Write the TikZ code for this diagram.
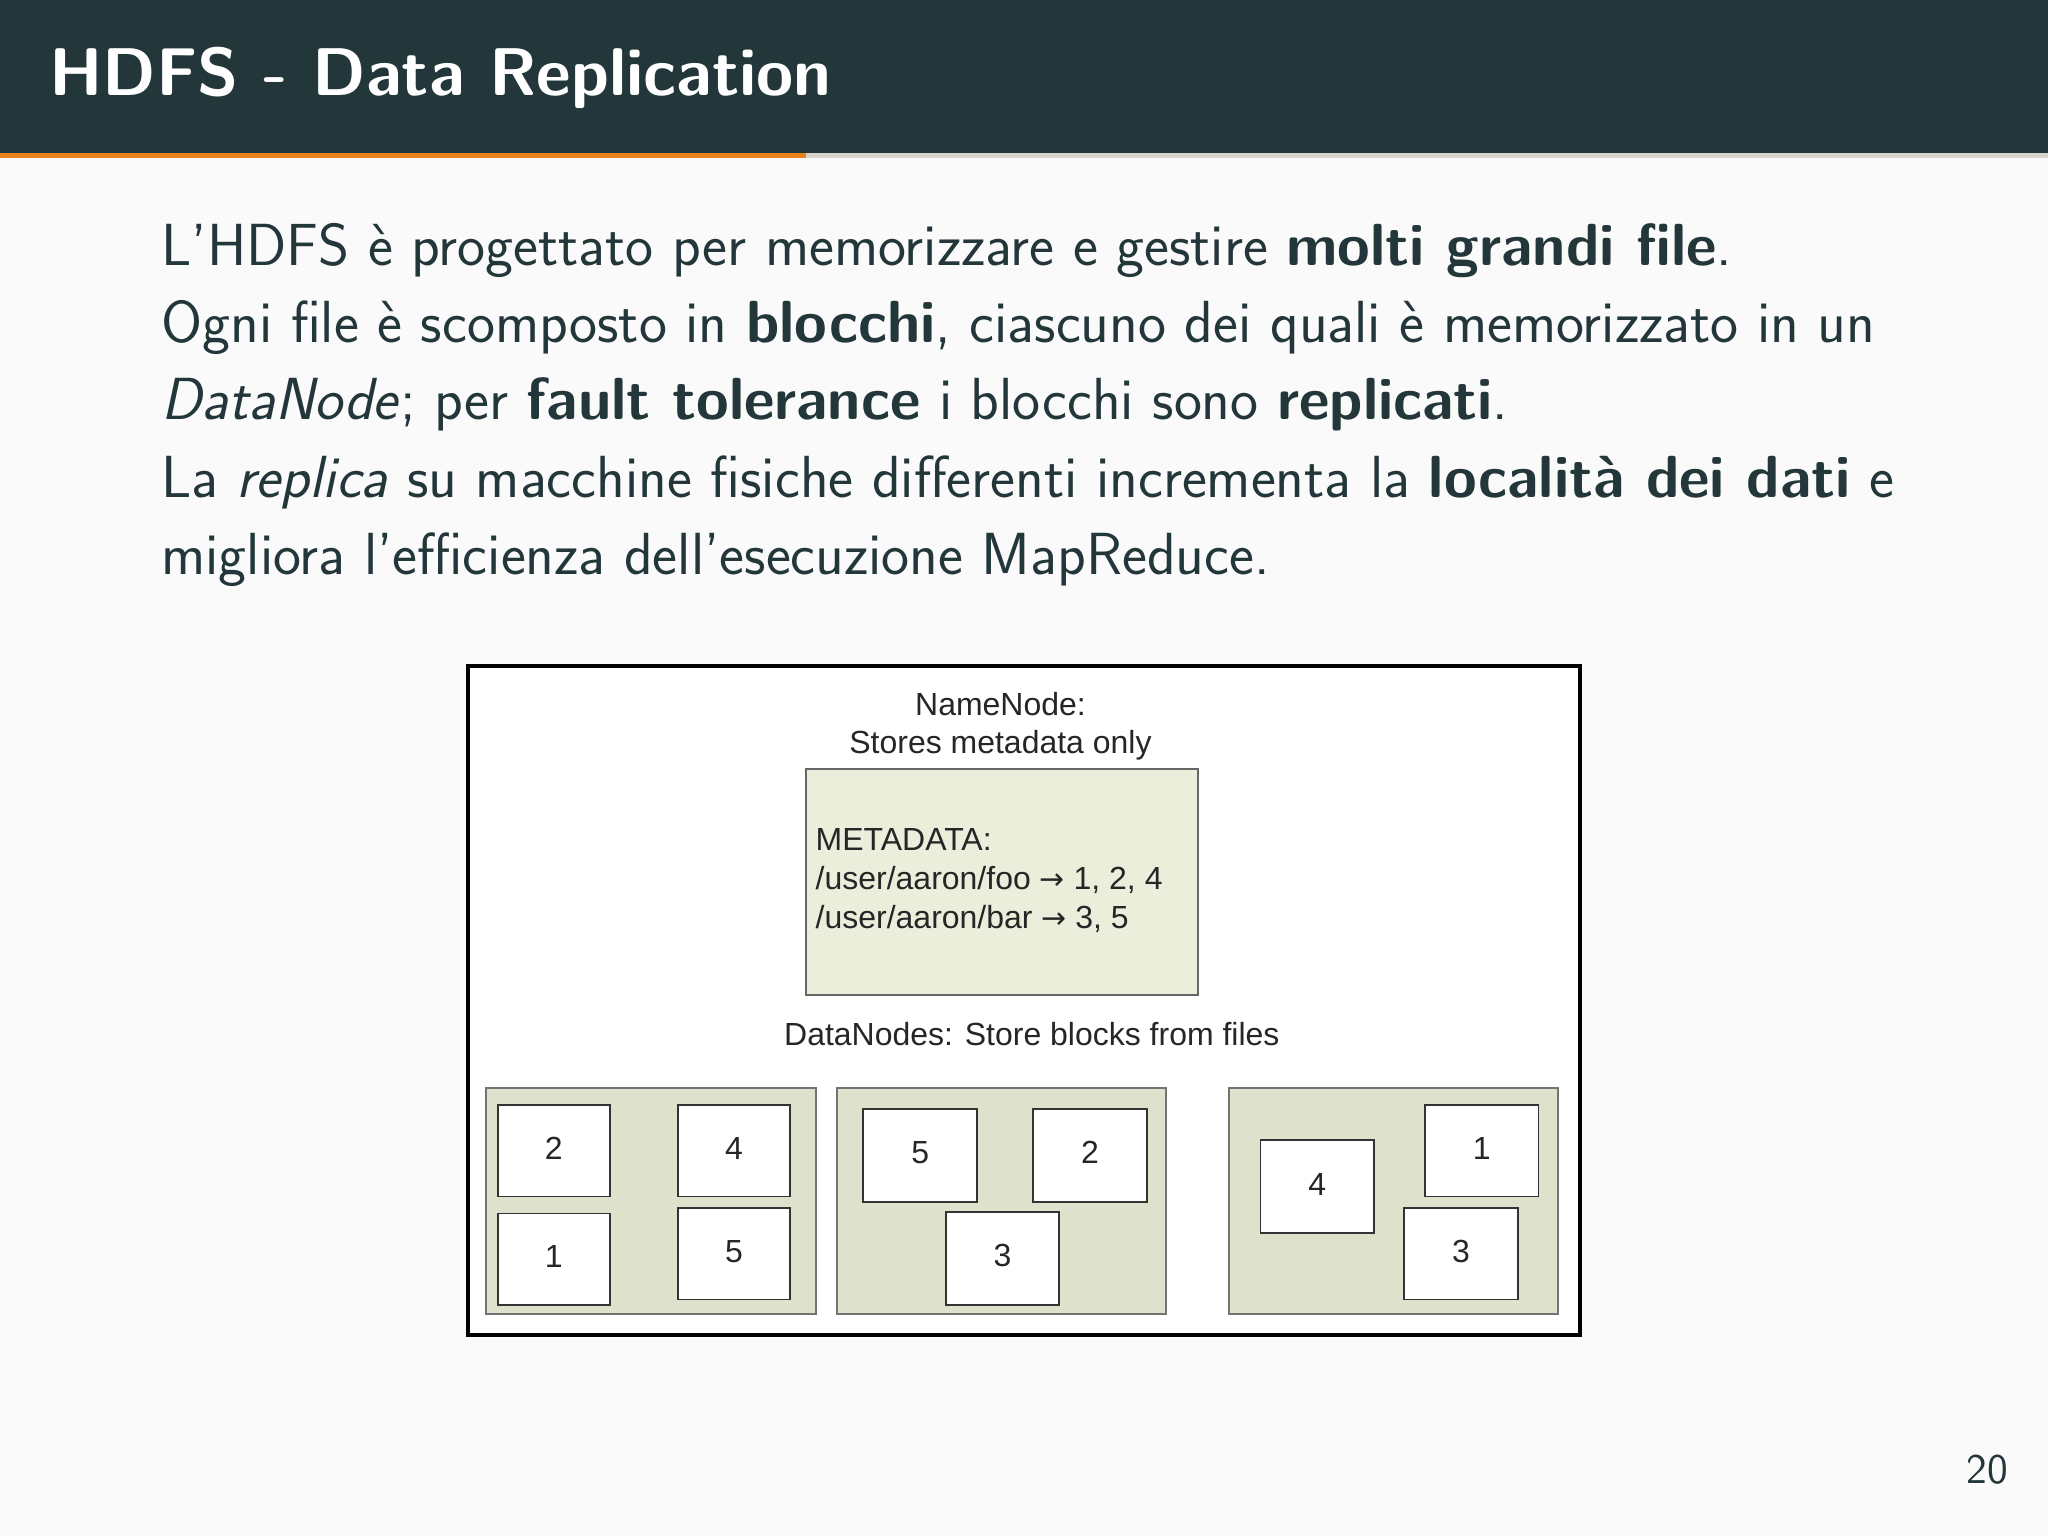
\documentclass[tikz,border=0pt]{standalone}
\usepackage{fontspec}
\newfontfamily\arial{Liberation Sans}
\newfontfamily\dejavu{DejaVu Sans}
\definecolor{bar}{HTML}{23373B}
\definecolor{orng}{HTML}{EB811B}
\definecolor{lgray}{HTML}{D6D6CE}
\definecolor{bg}{HTML}{FAFAFA}
\definecolor{meta}{HTML}{ECEEDC}
\definecolor{dn}{HTML}{DEE1CC}
\definecolor{txt}{HTML}{23373B}
\tikzset{
 body/.style={anchor=base west,inner sep=0pt,font=\sffamily\fontsize{16.9}{21}\selectfont,text=txt},
 dtext/.style={inner sep=0pt,font=\arial\fontsize{9.1}{11}\selectfont,text=black!85},
 dnbox/.style={draw=black!55,fill=dn,line width=0.5pt},
 blk/.style={draw=black!80,fill=white,line width=0.5pt}
}
\newcommand{\rarr}{{\dejavu\fontsize{8.5}{10}\selectfont →}}
\begin{document}
\begin{tikzpicture}[x=0.013061cm,y=-0.013061cm]
\useasboundingbox (0,0) rectangle (1568,1176);
\fill[bg] (0,0) rectangle (1568,1176);
\fill[bar] (0,0) rectangle (1568,117);
\fill[lgray] (0,117) rectangle (1568,121);
\fill[orng] (0,117) rectangle (617,121);
\node[anchor=base west,inner sep=0pt,text=white,font=\sffamily\bfseries\fontsize{19.2}{23}\selectfont] (title) at (37,73) {HDFS - Data Replication};
\node[body] (l1) at (123,203) {L'HDFS è progettato per memorizzare e gestire \textbf{molti grandi file}.};
\node[body] (l2) at (123,262) {Ogni file è scomposto in \textbf{blocchi}, ciascuno dei quali è memorizzato in un};
\node[body] (l3) at (123,321) {\textit{DataNode}; per \textbf{fault tolerance} i blocchi sono \textbf{replicati}.};
\node[body] (l4) at (123,381) {La \textit{replica} su macchine fisiche differenti incrementa la \textbf{località dei dati} e};
\node[body] (l5) at (123,440) {migliora l'efficienza dell'esecuzione MapReduce.};
% diagram
\draw[line width=1.1pt,fill=white] (358,510) rectangle (1210,1022);
\node[dtext,align=center] (nn) at (766,556) {NameNode:\\[0pt]Stores metadata only};
\draw[draw=black!60,fill=meta,line width=0.5pt] (617,589) rectangle (917,762);
\node[dtext,anchor=base west,align=left] (md) at (624,651) {METADATA:};
\node[dtext,anchor=base west] (md2) at (624,681) {/user/aaron/foo \rarr{} 1, 2, 4};
\node[dtext,anchor=base west] (md3) at (624,711) {/user/aaron/bar \rarr{} 3, 5};
\node[dtext] (dnl) at (790,792) {DataNodes: Store blocks from files};
\draw[dnbox] (372,833) rectangle (625,1006);
\draw[dnbox] (641,833) rectangle (893,1006);
\draw[dnbox] (941,833) rectangle (1193,1006);
\foreach \a/\b/\c/\d/\t in {381/846/467/916/2, 519/846/605/916/4, 381/929/467/999/1, 519/925/605/995/5,
 661/849/748/920/5, 791/849/878/920/2, 724/928/811/999/3,
 965/873/1052/944/4, 1091/846/1178/916/1, 1075/925/1162/995/3}{
 \draw[blk] (\a,\b) rectangle (\c,\d);
 \node[dtext] at ({(\a+\c)/2},{(\b+\d)/2-2}) {\t};
}
\node[anchor=base east,inner sep=0pt,font=\sffamily\fontsize{12}{14}\selectfont,text=txt] (pg) at (1538,1136) {20};
\end{tikzpicture}
\end{document}
